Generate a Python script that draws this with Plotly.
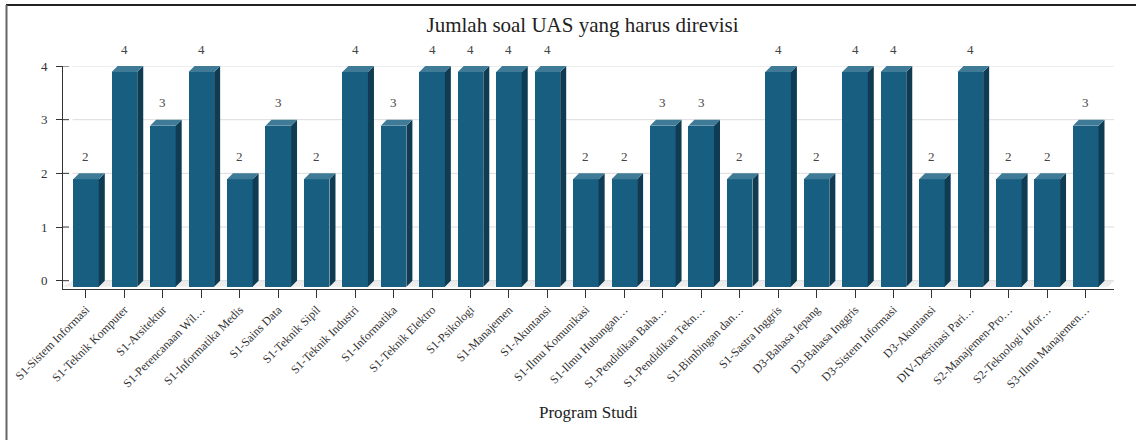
import plotly.graph_objects as go

# ---------------- data ----------------
categories = [
    "S1-Sistem Informasi", "S1-Teknik Komputer", "S1-Arsitektur", "S1-Perencanaan Wil…",
    "S1-Informatika Medis", "S1-Sains Data", "S1-Teknik Sipil", "S1-Teknik Industri",
    "S1-Informatika", "S1-Teknik Elektro", "S1-Psikologi", "S1-Manajemen",
    "S1-Akuntansi", "S1-Ilmu Komunikasi", "S1-Ilmu Hubungan…", "S1-Pendidikan Baha…",
    "S1-Pendidikan Tekn…", "S1-Bimbingan dan…", "S1-Sastra Inggris", "D3-Bahasa Jepang",
    "D3-Bahasa Inggris", "D3-Sistem Informasi", "D3-Akuntansi", "DIV-Destinasi Pari…",
    "S2-Manajemen-Pro…", "S2-Teknologi Infor…", "S3-Ilmu Manajemen…",
]
values = [2, 4, 3, 4, 2, 3, 2, 4, 3, 4, 4, 4, 4, 2, 2, 3, 3, 2, 4, 2, 4, 4, 2, 4, 2, 2, 3]
y_ticks = [0, 1, 2, 3, 4]
title_text = "Jumlah soal UAS yang harus direvisi"
x_title = "Program Studi"

# ---------------- geometry / style ----------------
W, H = 1136, 440
L, R, T, B = 63, 1114, 66, 289
x_range = [-0.598, 26.736]
y_range = [-0.1546, 4]
sx = (R - L) / (x_range[1] - x_range[0])   # px per x unit
sy = (B - T) / (y_range[1] - y_range[0])   # px per y unit
DEPTH = 6
dx = DEPTH / sx
dy = DEPTH / sy
hw = 12.8 / sx
WALL = 9.5 / sx

FRONT = "#185e80"
SIDE = "#0f3c52"
TOP = "#3f7b97"
FONT = "Liberation Serif, Times New Roman, serif"

xs = list(range(len(categories)))

fig = go.Figure()

# front faces
fig.add_trace(go.Bar(
    x=xs, y=values, base=[-dy] * len(values), width=2 * hw,
    marker=dict(color=FRONT, line=dict(width=0)), hoverinfo="skip",
))

side_x, side_y, top_x, top_y = [], [], [], []
for xi, v in zip(xs, values):
    xl, xr = xi - hw, xi + hw
    side_x += [xr, xr + dx, xr + dx, xr, xr, None]
    side_y += [-dy, 0, v, v - dy, -dy, None]
    top_x += [xl, xl + dx, xr + dx, xr, xl, None]
    top_y += [v - dy, v, v, v - dy, v - dy, None]

fig.add_trace(go.Scatter(x=side_x, y=side_y, mode="lines", fill="toself",
                         fillcolor=SIDE, line=dict(width=0, color=SIDE), hoverinfo="skip"))
fig.add_trace(go.Scatter(x=top_x, y=top_y, mode="lines", fill="toself",
                         fillcolor=TOP, line=dict(width=0, color=TOP), hoverinfo="skip"))

# value labels
annotations = []
for xi, v in zip(xs, values):
    annotations.append(dict(x=xi, y=v, xref="x", yref="y", text=str(v), showarrow=False,
                            yshift=17, xanchor="center", yanchor="middle",
                            font=dict(family=FONT, size=13, color="#444")))

shapes = []
# floor
a, b = x_range
shapes.append(dict(type="path", xref="x", yref="y", layer="below",
                   path=f"M {a},{-dy} L {b - dx},{-dy} L {b},0 L {a + WALL},0 Z",
                   fillcolor="#ececec", line=dict(width=0)))
# gridlines (back wall)
for t in y_ticks:
    shapes.append(dict(type="line", xref="x", yref="y", layer="below",
                       x0=a + WALL, x1=b, y0=t, y1=t, line=dict(color="#dcdcdc", width=1)))
    # inner half of y tick
    shapes.append(dict(type="line", xref="x", yref="y", layer="above",
                       x0=a, x1=a + 6 / sx, y0=t, y1=t, line=dict(color="#333", width=1)))


def px_to_paper_x(p):
    return (p - L) / (R - L)


def px_to_paper_y(p):
    return (B - p) / (B - T)


# outer frame (top + left)
shapes.append(dict(type="line", xref="paper", yref="paper",
                   x0=px_to_paper_x(6), x1=px_to_paper_x(1136),
                   y0=px_to_paper_y(5), y1=px_to_paper_y(5),
                   line=dict(color="#222", width=2)))
shapes.append(dict(type="line", xref="paper", yref="paper",
                   x0=px_to_paper_x(6.5), x1=px_to_paper_x(6.5),
                   y0=px_to_paper_y(5), y1=px_to_paper_y(440),
                   line=dict(color="#666", width=2)))

annotations.append(dict(text=x_title, xref="paper", yref="paper",
                        x=px_to_paper_x(588.5), y=px_to_paper_y(412),
                        xanchor="center", yanchor="middle", showarrow=False,
                        font=dict(family=FONT, size=17, color="#222")))

fig.update_layout(
    template="none",
    width=W, height=H, autosize=False,
    margin=dict(l=L, r=W - R, t=T, b=H - B, pad=0),
    paper_bgcolor="white", plot_bgcolor="white",
    showlegend=False,
    bargap=0,
    title=dict(text=title_text, xref="paper", x=px_to_paper_x(582.5), xanchor="center",
               yref="container", y=1 - 25 / H, yanchor="middle",
               font=dict(family=FONT, size=21, color="#222")),
    xaxis=dict(range=x_range, tickmode="array", tickvals=xs, ticktext=categories,
               tickangle=-45, showgrid=False, zeroline=False,
               showline=True, linecolor="#333", linewidth=1,
               ticks="outside", ticklen=8, tickcolor="#333", tickwidth=1,
               tickfont=dict(family=FONT, size=12, color="#333"), automargin=False),
    yaxis=dict(range=y_range, tickmode="array", tickvals=y_ticks,
               showgrid=False, zeroline=False,
               showline=True, linecolor="#333", linewidth=1,
               ticks="outside", ticklen=6, tickcolor="#333", tickwidth=1,
               ticklabelstandoff=6,
               tickfont=dict(family=FONT, size=13, color="#333"), automargin=False),
    shapes=shapes,
    annotations=annotations,
)

fig.write_html("out.html", config={"displayModeBar": False},
               post_script="document.body.style.margin='0';document.body.style.padding='0';")
